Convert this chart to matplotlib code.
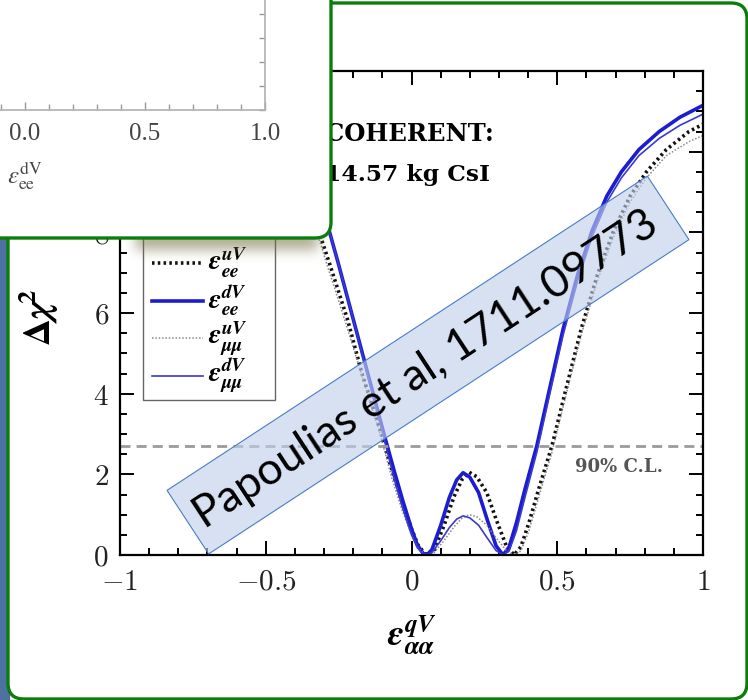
import numpy as np
import matplotlib
matplotlib.use("Agg")
import matplotlib.pyplot as plt
from matplotlib.patches import FancyBboxPatch, Rectangle, Polygon
from matplotlib.lines import Line2D
from matplotlib.ticker import MultipleLocator
from matplotlib.transforms import IdentityTransform

plt.rcParams['mathtext.fontset'] = 'cm'

# ---- data ----
# epsilon_ee^dV (thick solid blue)
eps_dv_ee = [-0.46, -0.40, -0.35, -0.30, -0.25, -0.20, -0.15, -0.10, -0.06, -0.03,
             0.00, 0.02, 0.04, 0.052, 0.07, 0.10, 0.13, 0.155, 0.177, 0.20,
             0.23, 0.26, 0.29, 0.314, 0.335, 0.36, 0.39, 0.43, 0.47, 0.52,
             0.57, 0.62, 0.67, 0.72, 0.78, 0.85, 0.92, 1.00]
chi_dv_ee = [12.6, 11.3, 10.0, 8.5, 7.2, 5.85, 4.5, 3.15, 2.1, 1.35,
             0.65, 0.25, 0.04, 0.0, 0.13, 0.73, 1.43, 1.86, 2.04, 1.93,
             1.55, 0.87, 0.23, 0.0, 0.2, 0.8, 1.65, 2.71, 4.0, 5.6,
             6.95, 8.05, 8.9, 9.5, 10.05, 10.5, 10.85, 11.15]

# epsilon_ee^uV (thick black dotted)
eps_uv_ee = [-0.50, -0.45, -0.39, -0.34, -0.28, -0.22, -0.17, -0.11, -0.067, -0.034,
             0.00, 0.022, 0.045, 0.058, 0.078, 0.112, 0.146, 0.174, 0.198, 0.224,
             0.258, 0.291, 0.325, 0.352, 0.375, 0.403, 0.437, 0.482, 0.526, 0.582,
             0.638, 0.694, 0.75, 0.806, 0.874, 0.952, 1.00]
chi_uv_ee = [12.6, 11.3, 10.0, 8.5, 7.2, 5.85, 4.5, 3.15, 2.1, 1.35,
             0.65, 0.25, 0.04, 0.0, 0.13, 0.74, 1.45, 1.88, 2.05, 1.94,
             1.55, 0.87, 0.23, 0.0, 0.2, 0.8, 1.65, 2.71, 4.0, 5.6,
             6.95, 8.05, 8.9, 9.5, 10.05, 10.5, 10.68]

# epsilon_mumu^dV (thin solid blue)
eps_dv_mm = [-0.46, -0.40, -0.35, -0.30, -0.25, -0.20, -0.15, -0.10, -0.06, -0.03,
             0.00, 0.02, 0.04, 0.052, 0.07, 0.10, 0.13, 0.155, 0.177, 0.20,
             0.23, 0.26, 0.29, 0.314, 0.335, 0.36, 0.39, 0.43, 0.47, 0.52,
             0.57, 0.62, 0.67, 0.72, 0.78, 0.85, 0.92, 1.00]
chi_dv_mm = [12.5, 11.2, 9.95, 8.5, 7.2, 5.85, 4.45, 3.05, 1.9, 1.15,
             0.5, 0.18, 0.02, 0.0, 0.06, 0.35, 0.68, 0.89, 0.97, 0.92,
             0.74, 0.42, 0.11, 0.0, 0.1, 0.6, 1.45, 2.55, 3.85, 5.45,
             6.8, 7.9, 8.75, 9.35, 9.9, 10.33, 10.65, 10.93]

# epsilon_mumu^uV (thin grey dotted)
eps_uv_mm = [-0.52, -0.46, -0.40, -0.35, -0.29, -0.23, -0.17, -0.11, -0.067, -0.034,
             0.00, 0.022, 0.045, 0.058, 0.078, 0.112, 0.146, 0.174, 0.198, 0.224,
             0.258, 0.291, 0.325, 0.352, 0.375, 0.403, 0.437, 0.482, 0.526, 0.582,
             0.638, 0.694, 0.75, 0.806, 0.874, 0.952, 1.00]
chi_uv_mm = [12.6, 11.3, 10.0, 8.6, 7.2, 5.85, 4.45, 3.05, 1.9, 1.15,
             0.5, 0.18, 0.02, 0.0, 0.06, 0.36, 0.70, 0.92, 1.0, 0.95,
             0.74, 0.42, 0.11, 0.0, 0.1, 0.6, 1.45, 2.55, 3.85, 5.45,
             6.8, 7.9, 8.75, 9.35, 9.9, 10.25, 10.4]

cl90 = 2.71
legend_labels = [r'$\mathbfit{\epsilon}_{\mathbfit{ee}}^{\mathbfit{uV}}$',
                 r'$\mathbfit{\epsilon}_{\mathbfit{ee}}^{\mathbfit{dV}}$',
                 r'$\mathbfit{\epsilon}_{\mathbfit{\mu\mu}}^{\mathbfit{uV}}$',
                 r'$\mathbfit{\epsilon}_{\mathbfit{\mu\mu}}^{\mathbfit{dV}}$']
xtick_vals = [-1, -0.5, 0, 0.5, 1]
xtick_text = ['$-1$', '$-0.5$', '$0$', '$0.5$', '$1$']
ytick_vals = [0, 2, 4, 6, 8, 10, 12]
inset_ticks = [0.0, 0.5, 1.0]
inset_tick_text = ['0.0', '0.5', '1.0']

# line styles for the four series (same order as legend_labels)
styles = [dict(color='#111111', lw=2.6, ls=(0, (0.7, 0.9))),
          dict(color='#1c1cd0', lw=2.6, ls='-'),
          dict(color='#8a8a8a', lw=1.1, ls=(0, (1, 1.2))),
          dict(color='#3a3acc', lw=1.2, ls='-')]

W, H = 748, 700
GREEN = '#0b7d0b'

fig = plt.figure(figsize=(W / 100, H / 100), dpi=100)
fig.patch.set_facecolor('white')


def fbox(l, t, r, b):
    # pixel box (top-left origin) -> figure fraction rect
    return [l / W, 1 - b / H, (r - l) / W, (b - t) / H]


def fx(x):
    return x / W


def fy(y):
    return 1 - y / H


# slide background strip and main frame
fig.add_artist(Rectangle((0, 0), 9, H, transform=IdentityTransform(),
                         color='#4d72a2', zorder=0.1))
fig.add_artist(FancyBboxPatch((8, 1), 739, 696, boxstyle='round,pad=0,rounding_size=16',
                              transform=IdentityTransform(), fc='white', ec=GREEN,
                              lw=2.4, zorder=0.2))

# ---- main chart ----
ax = fig.add_axes(fbox(120, 71, 703, 555))
ax.set_zorder(1)
series = [(eps_uv_ee, chi_uv_ee), (eps_dv_ee, chi_dv_ee),
          (eps_uv_mm, chi_uv_mm), (eps_dv_mm, chi_dv_mm)]
for (xs, ys), st in zip(series, styles):
    ax.plot(xs, ys, **st)
ax.axhline(cl90, color='#9a9a9a', lw=2, ls=(0, (3.6, 2.2)))

ax.set_xlim(-1, 1)
ax.set_ylim(0, 12)
ax.set_xticks(xtick_vals, labels=xtick_text)
ax.set_yticks(ytick_vals, labels=['$%d$' % v for v in ytick_vals])
ax.xaxis.set_minor_locator(MultipleLocator(0.1))
ax.yaxis.set_minor_locator(MultipleLocator(0.5))
ax.tick_params(which='both', direction='in', top=True, right=True, width=1.4,
               labelsize=21, labelcolor='#222222')
ax.tick_params(which='major', length=10)
ax.tick_params(which='minor', length=5)
ax.tick_params(axis='x', pad=9)
ax.tick_params(axis='y', pad=8)
for s in ax.spines.values():
    s.set_linewidth(1.6)

# legend drawn by hand so the rows sit where they do in the picture
fig.add_artist(Rectangle((143, H - 400), 132, 180, transform=IdentityTransform(),
                         fc='white', ec='#666666', lw=1.0, zorder=1.9))
for i, (lab, st) in enumerate(zip(legend_labels, styles)):
    ly = 263 + i * 37.5
    fig.add_artist(Line2D([152, 203], [H - ly, H - ly], transform=IdentityTransform(),
                          zorder=2, **st))
    fig.text(fx(208), fy(ly), lab, fontsize=20, math_fontfamily='stix',
             ha='left', va='center', zorder=2)

fig.text(fx(39), fy(317), r'$\mathbf{\Delta}\mathbfit{\chi}^{\mathbf{2}}$', fontsize=27,
         math_fontfamily='stix', rotation=90, ha='center', va='center')
fig.text(fx(412), fy(635), r'$\mathbfit{\epsilon}_{\mathbfit{\alpha\alpha}}^{\mathbfit{qV}}$',
         fontsize=26, math_fontfamily='stix', ha='center', va='center')

fig.text(fx(325), fy(134), 'COHERENT:', fontsize=17.5, family='DejaVu Serif',
         weight='bold', ha='left', va='center')
fig.text(fx(325), fy(175), '14.57 kg CsI', fontsize=16.8, family='DejaVu Serif',
         weight='bold', ha='left', va='center')
fig.text(fx(619), fy(467), '90% C.L.', fontsize=13, family='DejaVu Serif',
         weight='bold', color='#555555', ha='center', va='center')

# ---- rotated citation box ----
cx, cy = 428, 365
ang = np.deg2rad(33.2)
L, Wd = 574, 76
ux, uy = np.cos(ang), np.sin(ang)
vx, vy = -np.sin(ang), np.cos(ang)
dcx, dcy = cx, H - cy
corners = [(dcx - ux * L / 2 - vx * Wd / 2, dcy - uy * L / 2 - vy * Wd / 2),
           (dcx + ux * L / 2 - vx * Wd / 2, dcy + uy * L / 2 - vy * Wd / 2),
           (dcx + ux * L / 2 + vx * Wd / 2, dcy + uy * L / 2 + vy * Wd / 2),
           (dcx - ux * L / 2 + vx * Wd / 2, dcy - uy * L / 2 + vy * Wd / 2)]
fig.add_artist(Polygon(corners, closed=True, transform=IdentityTransform(),
                       fc='#c1d0eb', alpha=0.62, ec='none', zorder=3.5))
fig.add_artist(Polygon(corners, closed=True, transform=IdentityTransform(),
                       fc='none', ec='#4a7bc8', lw=0.8, zorder=3.6))
fig.text(fx(426), fy(370), 'Papoulias et al, 1711.09773', fontsize=32, family='Lato',
         rotation=33.2, rotation_mode='anchor', ha='center', va='center', zorder=4)

# ---- soft shadow under the overlay panel ----
sx0, sy0, sw, sh = 100, 210, 250, 75
yy, xx = np.mgrid[0:sh, 0:sw]
mask = ((xx + sx0 > 135) & (xx + sx0 < 318) & (yy + sy0 > 222) & (yy + sy0 < 250)).astype(float)
k = np.exp(-0.5 * (np.arange(-18, 19) / 6.0) ** 2)
k /= k.sum()
mask = np.apply_along_axis(lambda r: np.convolve(r, k, mode='same'), 1, mask)
mask = np.apply_along_axis(lambda c: np.convolve(c, k, mode='same'), 0, mask)
shadow = np.zeros((sh, sw, 4))
shadow[..., 0] = 115 / 255
shadow[..., 1] = 110 / 255
shadow[..., 2] = 65 / 255
shadow[..., 3] = 0.55 * mask
fig.figimage(shadow, xo=sx0, yo=H - (sy0 + sh), origin='upper', zorder=5)

# ---- overlay panel with a cropped inset axis ----
fig.add_artist(FancyBboxPatch((-30, H - 238), 361, 268, boxstyle='round,pad=0,rounding_size=16',
                              transform=IdentityTransform(), fc='white', ec=GREEN,
                              lw=2.4, zorder=6))
ins = fig.add_axes(fbox(-60, -60, 265, 110))
ins.set_zorder(7)
ins.set_facecolor('none')
ins.set_xlim((-60 - 25) / 240, 1.0)
ins.set_ylim(0, 170 / 240)
ins.set_xticks(inset_ticks, labels=inset_tick_text)
ins.xaxis.set_minor_locator(MultipleLocator(0.1))
ins.yaxis.set_major_locator(MultipleLocator(0.1))
ins.yaxis.tick_right()
ins.tick_params(which='both', direction='in', color='#9a9a9a', width=1.0)
ins.tick_params(axis='x', which='major', length=6, labelsize=18, labelcolor='#444444', pad=9)
ins.tick_params(axis='x', which='minor', length=4)
ins.tick_params(axis='y', length=4, labelright=False)
for lab in ins.get_xticklabels():
    lab.set_family('Liberation Serif')
ins.spines['top'].set_visible(False)
ins.spines['left'].set_visible(False)
for s in ('bottom', 'right'):
    ins.spines[s].set_color('#b0b0b0')
    ins.spines[s].set_linewidth(1.2)
fig.text(fx(25), fy(176), r'$\epsilon_{\rm ee}^{\rm dV}$', fontsize=18, math_fontfamily='stix',
         color='#444444', ha='center', va='center', zorder=8)

fig.savefig('out.png', dpi=100)
